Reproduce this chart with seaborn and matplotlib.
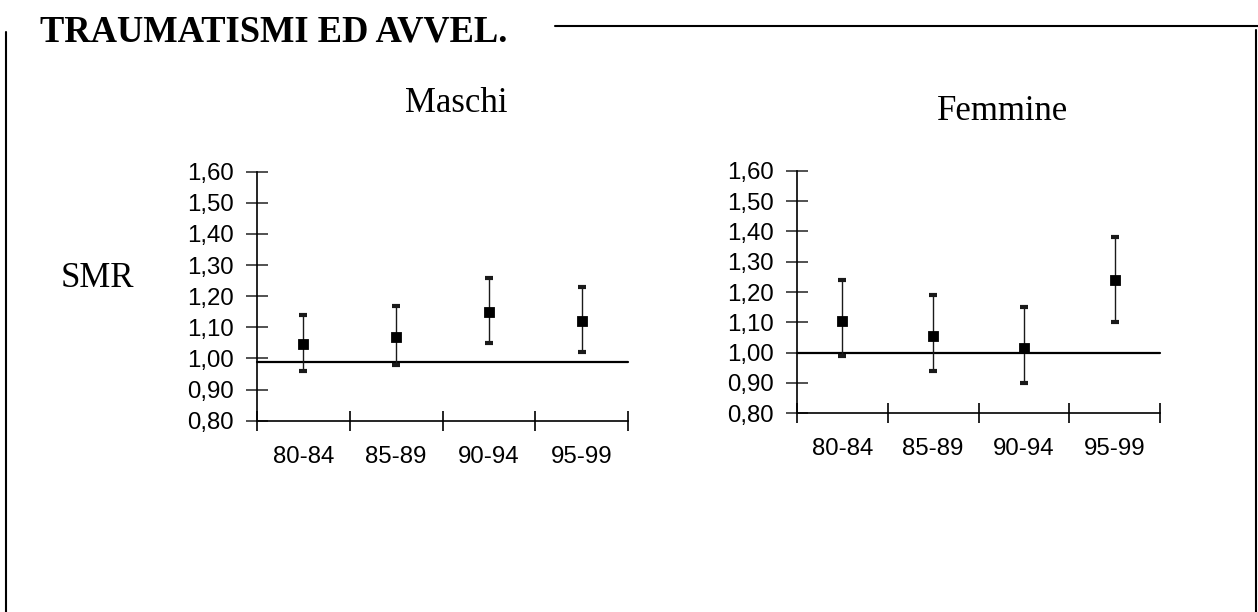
import numpy as np
import pandas as pd
import matplotlib
matplotlib.use("Agg")
import matplotlib.pyplot as plt
from matplotlib.lines import Line2D
from matplotlib.ticker import FixedLocator
import seaborn as sns

# Periods of observation
periods = ["80-84", "85-89", "90-94", "95-99"]

# Standardised mortality ratios with 95% confidence limits
smr_maschi = [1.045, 1.07, 1.15, 1.12]
low_maschi = [0.96, 0.98, 1.05, 1.02]
high_maschi = [1.14, 1.17, 1.26, 1.23]

smr_femmine = [1.105, 1.055, 1.015, 1.24]
low_femmine = [0.99, 0.94, 0.90, 1.10]
high_femmine = [1.24, 1.19, 1.15, 1.38]

# Reference level drawn across each panel
ref_maschi = 0.99
ref_femmine = 1.00

y_ticks = [0.80, 0.90, 1.00, 1.10, 1.20, 1.30, 1.40, 1.50, 1.60]
y_tick_labels = ["0,80", "0,90", "1,00", "1,10", "1,20", "1,30", "1,40", "1,50", "1,60"]

title = "TRAUMATISMI ED AVVEL."
panel_titles = ["Maschi", "Femmine"]
y_label = "SMR"

sns.set_theme(style="white")
plt.rcParams["font.family"] = ["Liberation Sans", "DejaVu Sans"]

W, H = 1258, 612
fig = plt.figure(figsize=(W / 100, H / 100), dpi=100)
fig.patch.set_facecolor("white")


def px_box(x0, y_top, x1, y_bottom):
    return [x0 / W, 1 - y_bottom / H, (x1 - x0) / W, (y_bottom - y_top) / H]


def draw_panel(ax, smr, low, high, ref):
    df = pd.DataFrame({"periodo": periods, "smr": smr})
    smr = np.asarray(smr)
    low = np.asarray(low)
    high = np.asarray(high)
    xpos = np.arange(len(periods))
    ax.errorbar(xpos, smr, yerr=[smr - low, high - smr], fmt="none",
                ecolor="#1a1a1a", elinewidth=1.0, capsize=3.0, capthick=3.0,
                clip_on=False, zorder=3)
    sns.pointplot(data=df, x="periodo", y="smr", order=periods,
                  linestyle="none", marker="s", markersize=5.2,
                  color="black", errorbar=None, ax=ax, zorder=4)
    ax.axhline(ref, color="black", lw=1.6, zorder=2, clip_on=False)

    ax.set_xlim(-0.5, len(periods) - 0.5)
    ax.set_ylim(y_ticks[0], y_ticks[-1])
    ax.set_xlabel("")
    ax.set_ylabel("")

    ax.set_xticks(xpos)
    ax.set_xticklabels(periods)
    ax.xaxis.set_minor_locator(FixedLocator(np.arange(-0.5, len(periods), 1.0)))
    ax.tick_params(axis="x", which="major", length=0, pad=18, labelsize=17.3,
                   labelcolor="black")
    ax.tick_params(axis="x", which="minor", direction="inout", length=15,
                   width=1.2, color="black", bottom=True)

    ax.set_yticks(y_ticks)
    ax.set_yticklabels(y_tick_labels)
    ax.tick_params(axis="y", direction="inout", length=16, width=1.2,
                   color="#333333", pad=8.6, labelsize=17.3, labelcolor="black",
                   left=True)

    for side in ("top", "right"):
        ax.spines[side].set_visible(False)
    for side in ("left", "bottom"):
        ax.spines[side].set_color("black")
        ax.spines[side].set_linewidth(1.2)
    ax.set_facecolor("none")
    ax.grid(False)


ax_m = fig.add_axes(px_box(257, 171.7, 628, 420.7))
draw_panel(ax_m, smr_maschi, low_maschi, high_maschi, ref_maschi)

ax_f = fig.add_axes(px_box(797, 170.7, 1160, 413.3))
draw_panel(ax_f, smr_femmine, low_femmine, high_femmine, ref_femmine)

serif = ["Liberation Serif", "DejaVu Serif"]

fig.text(40 / W, 1 - 42 / H, title, family=serif, fontweight="bold",
         fontsize=26.3, ha="left", va="baseline", color="black")
fig.text(456 / W, 1 - 112 / H, panel_titles[0], family=serif, fontsize=25,
         ha="center", va="baseline", color="black")
fig.text(1003 / W, 1 - 120 / H, panel_titles[1], family=serif, fontsize=25,
         ha="center", va="baseline", color="black")
fig.text(61 / W, 1 - 287 / H, y_label, family=serif, fontsize=25,
         ha="left", va="baseline", color="black")

# Page frame around the section
fig.add_artist(Line2D([6 / W, 6 / W], [1 - 32 / H, 0], color="black", lw=1.5))
fig.add_artist(Line2D([1255.5 / W, 1255.5 / W], [1 - 30 / H, 0], color="black", lw=1.5))
fig.add_artist(Line2D([555 / W, 1], [1 - 26 / H, 1 - 26 / H], color="black", lw=1.5))

fig.savefig("out.png", dpi=100, facecolor="white")
